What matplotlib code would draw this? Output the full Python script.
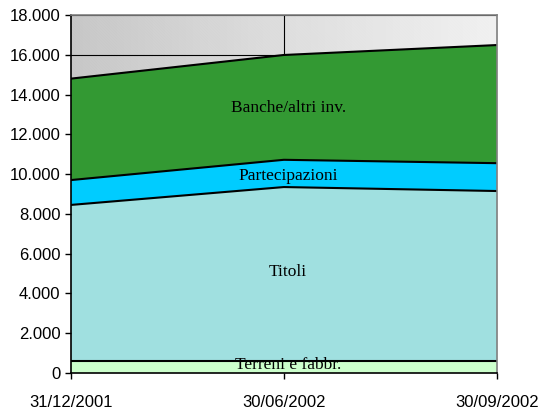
import numpy as np
import matplotlib.pyplot as plt
from matplotlib.ticker import FuncFormatter

# Balance sheet components (cumulative stack, bottom to top)
DATES = ['31/12/2001', '30/06/2002', '30/09/2002']
TERRENI = [600, 600, 600]
TITOLI = [7850, 8750, 8550]
PARTECIPAZIONI = [1250, 1370, 1400]
BANCHE = [5100, 5270, 5940]

NAMES = ['Terreni e fabbr.', 'Titoli', 'Partecipazioni', 'Banche/altri inv.']
COLORS = ['#CCFFCC', '#A0E0E0', '#00CCFF', '#339933']

fig = plt.figure(figsize=(5.38, 4.09), dpi=100)
ax = fig.add_axes([0.1314, 0.088, 0.7924, 0.8753])

x = np.arange(len(DATES))
ax.set_xlim(0, 2)
ax.set_ylim(0, 18000)

# grey gradient plot background with fine diagonal hatching
grad = np.linspace(0, 1, 256).reshape(1, -1)
ax.imshow(grad, extent=[0, 2, 0, 18000], aspect='auto', cmap='Greys_r',
          vmin=-2.6, vmax=1.55, zorder=0)
plt.rcParams['hatch.linewidth'] = 0.6
ax.fill_between([0, 2], 0, 18000, facecolor='none',
                edgecolor=(1, 1, 1, 0.2), hatch='\\' * 22,
                linewidth=0, zorder=0.2)

# gridlines behind the areas
for yv in range(2000, 18001, 2000):
    ax.axhline(yv, color='black', linewidth=0.8, zorder=0.5)
ax.axvline(1, color='black', linewidth=0.8, zorder=0.5)

stack = [TERRENI, TITOLI, PARTECIPAZIONI, BANCHE]
base = np.zeros(len(DATES))
for vals, col in zip(stack, COLORS):
    top = base + np.array(vals)
    ax.fill_between(x, base, top, facecolor=col, edgecolor='none', zorder=1)
    ax.plot(x, top, color='black', linewidth=1.5, zorder=2)
    base = top

# series labels
lab_pos = [(1.02, 420), (1.02, 5080), (1.02, 9920), (1.02, 13330)]
for name, (lx, ly) in zip(NAMES, lab_pos):
    ax.text(lx, ly, name, ha='center', va='center', fontsize=12.5,
            family='Liberation Serif', zorder=3)

ax.set_xticks(x)
ax.set_xticklabels(DATES)
ax.set_yticks(range(0, 18001, 2000))
ax.yaxis.set_major_formatter(FuncFormatter(lambda v, p: f'{int(v):,}'.replace(',', '.')))
for lbl in ax.get_xticklabels() + ax.get_yticklabels():
    lbl.set_family('Liberation Sans')
    lbl.set_fontsize(12)
ax.tick_params(axis='both', direction='out', length=4, width=1, color='black')
ax.tick_params(axis='x', pad=12)

ax.spines['left'].set_color('black')
ax.spines['bottom'].set_color('black')
ax.spines['top'].set_color('#808080')
ax.spines['right'].set_color('#808080')
for s in ax.spines.values():
    s.set_linewidth(1.2)
    s.set_zorder(4)

fig.savefig('out.png', dpi=100)
